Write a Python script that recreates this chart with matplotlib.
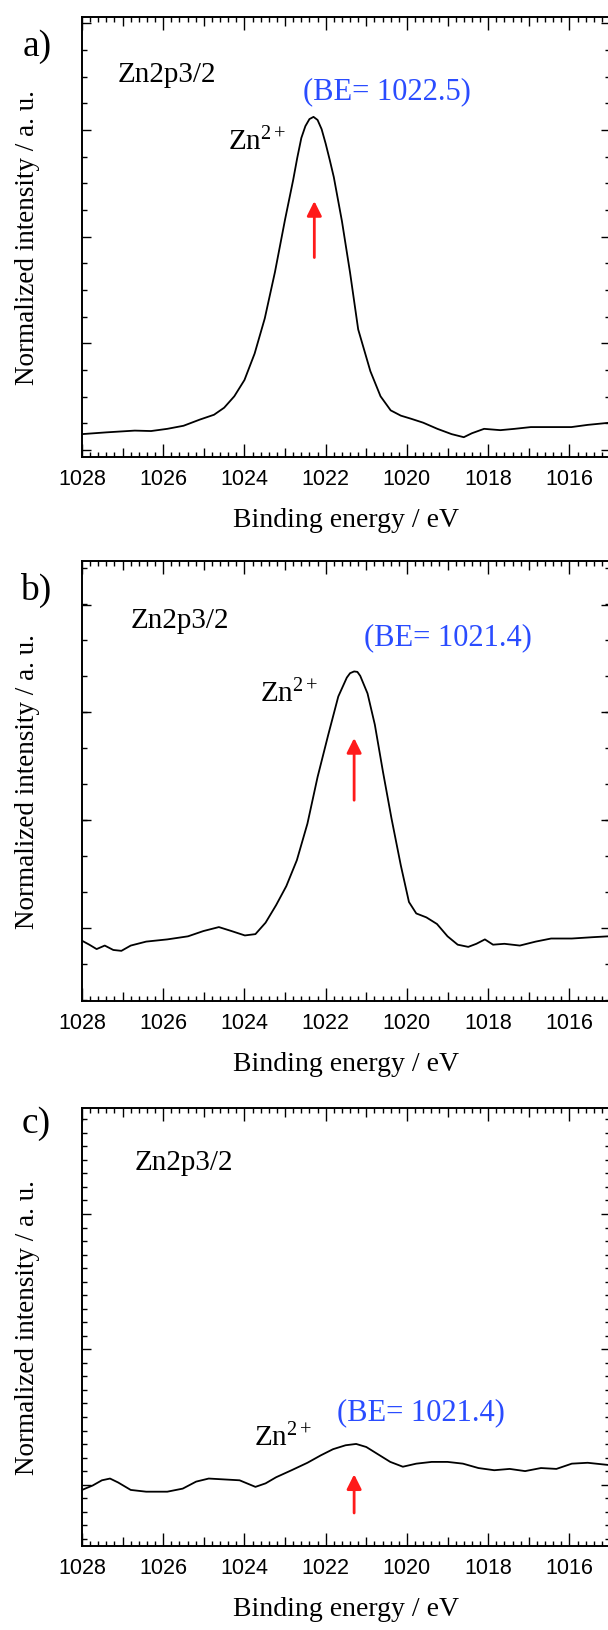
import matplotlib
matplotlib.use("Agg")
import matplotlib.pyplot as plt
from matplotlib.ticker import MultipleLocator, FuncFormatter

# --- data (binding energy in eV, normalized intensity) ---
energy_a = [1028.0, 1027.4, 1026.7, 1026.3, 1025.9, 1025.5, 1025.1, 1024.75, 1024.5, 1024.25,
            1024.0, 1023.75, 1023.5, 1023.25, 1023.0, 1022.8, 1022.7, 1022.6, 1022.5, 1022.4,
            1022.3, 1022.2, 1022.1, 1022.0, 1021.9, 1021.8, 1021.6, 1021.4, 1021.2, 1020.9,
            1020.65, 1020.4, 1020.15, 1019.9, 1019.6, 1019.25, 1018.9, 1018.6, 1018.4, 1018.1,
            1017.7, 1017.35, 1016.95, 1016.45, 1015.95, 1015.55, 1015.0]
inten_a = [0.052, 0.056, 0.060, 0.059, 0.064, 0.071, 0.085, 0.096, 0.112, 0.138,
           0.175, 0.235, 0.315, 0.420, 0.540, 0.630, 0.680, 0.725, 0.752, 0.768,
           0.773, 0.766, 0.745, 0.712, 0.675, 0.636, 0.536, 0.419, 0.290, 0.195,
           0.138, 0.106, 0.094, 0.087, 0.078, 0.064, 0.052, 0.045, 0.054, 0.064,
           0.061, 0.064, 0.068, 0.068, 0.068, 0.073, 0.078]

energy_b = [1028.0, 1027.82, 1027.64, 1027.44, 1027.23, 1027.03, 1026.8, 1026.42, 1025.9, 1025.39,
            1025.01, 1024.63, 1024.32, 1023.99, 1023.73, 1023.48, 1023.22, 1022.97, 1022.71, 1022.45,
            1022.2, 1021.94, 1021.69, 1021.48, 1021.4, 1021.3, 1021.22, 1021.15, 1020.97, 1020.79,
            1020.59, 1020.38, 1020.15, 1019.95, 1019.77, 1019.52, 1019.26, 1019.0, 1018.75, 1018.49,
            1018.29, 1018.08, 1017.88, 1017.6, 1017.22, 1016.83, 1016.45, 1015.94, 1015.43, 1015.04]
inten_b = [0.137, 0.128, 0.118, 0.126, 0.116, 0.114, 0.126, 0.135, 0.140, 0.147,
           0.159, 0.168, 0.159, 0.149, 0.152, 0.178, 0.218, 0.261, 0.320, 0.403,
           0.509, 0.604, 0.692, 0.735, 0.745, 0.749, 0.748, 0.739, 0.699, 0.628,
           0.521, 0.415, 0.308, 0.225, 0.199, 0.190, 0.175, 0.147, 0.128, 0.123,
           0.130, 0.140, 0.128, 0.130, 0.126, 0.135, 0.142, 0.142, 0.145, 0.147]

energy_c = [1028.0, 1027.74, 1027.51, 1027.31, 1027.11, 1026.8, 1026.42, 1025.9, 1025.52, 1025.19,
            1024.88, 1024.5, 1024.12, 1023.73, 1023.48, 1023.22, 1022.84, 1022.45, 1022.12, 1021.82,
            1021.51, 1021.25, 1021.0, 1020.74, 1020.41, 1020.1, 1019.77, 1019.39, 1019.0, 1018.62,
            1018.24, 1017.85, 1017.47, 1017.09, 1016.7, 1016.32, 1015.94, 1015.55, 1015.04]
inten_c = [0.128, 0.138, 0.150, 0.154, 0.145, 0.128, 0.124, 0.124, 0.131, 0.147,
           0.154, 0.152, 0.150, 0.135, 0.143, 0.157, 0.173, 0.190, 0.207, 0.221,
           0.230, 0.233, 0.226, 0.211, 0.192, 0.181, 0.188, 0.192, 0.192, 0.188,
           0.178, 0.173, 0.176, 0.171, 0.178, 0.176, 0.188, 0.190, 0.185]

panel_tags = ["a)", "b)", "c)"]
be_labels = ["(BE= 1022.5)", "(BE= 1021.4)", "(BE= 1021.4)"]
# text / arrow anchor points (energy, intensity)
title_pos = [(1025.9, 0.870), (1025.6, 0.865), (1025.5, 0.876)]
be_pos = [(1020.5, 0.832), (1019.0, 0.827), (1019.65, 0.306)]
ion_pos = [(1023.7, 0.718), (1022.9, 0.701), (1023.05, 0.249)]
arrow_x = [1022.28, 1021.30, 1021.30]
arrow_y = [(0.447, 0.588), (0.450, 0.604), (0.069, 0.170)]
# y tick spacing per panel (minor, major, offset)
ytick_cfg = [(0.0606, 0.2424, 0.016), (0.0817, 0.245, 0.166), (0.0309, 0.309, 0.140)]

plt.rcParams['font.family'] = ['Liberation Serif', 'DejaVu Serif']
plt.rcParams['mathtext.fontset'] = 'custom'
plt.rcParams['mathtext.rm'] = 'Liberation Serif'
plt.rcParams['mathtext.it'] = 'Liberation Serif:italic'

W, H = 608, 1631
fig = plt.figure(figsize=(W / 100, H / 100), dpi=100)

# axes boxes in pixels: (top, bottom)
boxes = [(18, 458), (562, 1002), (1109, 1547)]
left_px, right_px = 82, 610
tag_px = [(37, 47), (36, 590), (36, 1124)]

series = [(energy_a, inten_a), (energy_b, inten_b), (energy_c, inten_c)]

for i, (top, bot) in enumerate(boxes):
    ax = fig.add_axes([left_px / W, 1 - bot / H, (right_px - left_px) / W, (bot - top) / H])
    e, y = series[i]
    ax.plot(e, y, color='black', lw=1.3)
    ax.set_xlim(1028, 1015)
    ax.set_ylim(0, 1)

    # x ticks: long at even, medium at odd, minor every 0.2
    ax.set_xticks(list(range(1015, 1029)))
    ax.xaxis.set_minor_locator(MultipleLocator(0.2))
    ax.xaxis.set_major_formatter(FuncFormatter(lambda v, p: f"{v:.0f}" if round(v) % 2 == 0 else ""))
    mn, mj, off = ytick_cfg[i]
    ax.yaxis.set_major_locator(MultipleLocator(mj, offset=off))
    ax.yaxis.set_minor_locator(MultipleLocator(mn, offset=off))
    ax.set_yticklabels([])
    ax.tick_params(axis='both', which='both', direction='in', top=True, right=True, width=1.0)
    ax.tick_params(axis='x', which='major', length=9.5, pad=8)
    ax.tick_params(axis='x', which='minor', length=3.8)
    ax.tick_params(axis='y', which='major', length=6.5)
    ax.tick_params(axis='y', which='minor', length=3.8)
    for loc, t in zip(ax.get_xticks(), ax.xaxis.get_major_ticks()):
        if round(loc) % 2 == 1:
            t.tick1line.set_markersize(6.5)
            t.tick2line.set_markersize(6.5)
    for lab in ax.get_xticklabels():
        lab.set_fontfamily('Liberation Sans')
        lab.set_fontsize(15.5)
    for s in ax.spines.values():
        s.set_linewidth(1.4)

    ax.set_xlabel("Binding energy / eV", fontsize=20, labelpad=13)
    ax.set_ylabel("Normalized intensity / a. u.", fontsize=19.5, labelpad=27)

    ax.text(*title_pos[i], "Zn2p3/2", fontsize=21, ha='center', va='center')
    ax.text(*be_pos[i], be_labels[i], fontsize=22, color='#2a4cff', ha='center', va='center')
    ax.text(*ion_pos[i], "Zn$^{2+}$", fontsize=21, ha='center', va='center')
    ax.annotate('', xy=(arrow_x[i], arrow_y[i][1]), xytext=(arrow_x[i], arrow_y[i][0]),
                arrowprops=dict(arrowstyle='-|>', color='#ff1a1a', lw=2.0, mutation_scale=22))

    fig.text(tag_px[i][0] / W, 1 - tag_px[i][1] / H, panel_tags[i], fontsize=27,
             ha='center', va='center')

fig.savefig("out.png", dpi=100)
